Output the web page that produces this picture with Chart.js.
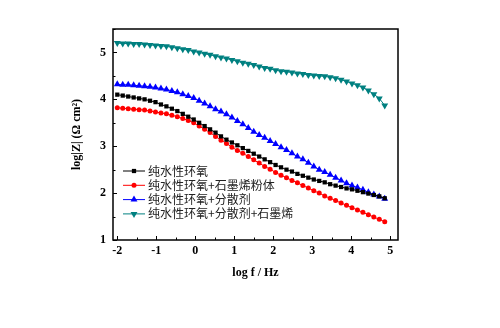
<!DOCTYPE html>
<html>
<head>
<meta charset="utf-8">
<script src="https://cdn.jsdelivr.net/npm/chart.js@4.4.0/dist/chart.umd.min.js"></script>
<style>
html,body{margin:0;padding:0;background:#fff;}
#wrap{width:500px;height:328px;position:relative;}
</style>
</head>
<body>
<div id="wrap"><canvas id="c" width="500" height="328"></canvas></div>
<script>
// ---- data ----
const logF = [-2.00,-1.86,-1.72,-1.58,-1.44,-1.30,-1.16,-1.02,-0.88,-0.74,
  -0.60,-0.46,-0.32,-0.18,-0.04,0.10,0.24,0.38,0.52,0.66,
  0.80,0.94,1.08,1.22,1.36,1.50,1.64,1.78,1.92,2.06,
  2.20,2.34,2.48,2.62,2.76,2.90,3.04,3.18,3.32,3.46,
  3.60,3.74,3.88,4.02,4.16,4.30,4.44,4.58,4.72,4.86];
const pureEpoxy = [4.10,4.08,4.06,4.04,4.02,4.00,3.97,3.94,3.89,3.85,
  3.80,3.75,3.69,3.63,3.57,3.50,3.43,3.36,3.29,3.21,
  3.14,3.08,3.02,2.96,2.90,2.84,2.78,2.72,2.66,2.60,
  2.55,2.50,2.46,2.41,2.37,2.33,2.29,2.26,2.23,2.19,
  2.16,2.13,2.10,2.08,2.05,2.02,1.99,1.96,1.93,1.89];
const epoxyGraphenePowder = [3.82,3.81,3.80,3.79,3.78,3.77,3.75,3.73,3.71,3.69,
  3.66,3.63,3.59,3.55,3.50,3.43,3.36,3.29,3.21,3.13,
  3.06,2.98,2.91,2.85,2.78,2.71,2.64,2.57,2.51,2.44,
  2.38,2.33,2.27,2.22,2.16,2.11,2.05,2.00,1.94,1.89,
  1.84,1.79,1.74,1.69,1.64,1.59,1.54,1.49,1.44,1.39];
const epoxyDispersant = [4.32,4.31,4.31,4.30,4.29,4.28,4.27,4.25,4.23,4.21,
  4.18,4.15,4.11,4.07,4.03,3.97,3.91,3.85,3.79,3.74,
  3.68,3.61,3.54,3.47,3.39,3.31,3.24,3.18,3.11,3.05,
  2.98,2.92,2.85,2.78,2.72,2.65,2.57,2.50,2.45,2.39,
  2.33,2.27,2.21,2.16,2.12,2.07,2.02,1.97,1.93,1.88];
const epoxyDispersantGraphene = [5.20,5.19,5.19,5.18,5.18,5.17,5.16,5.15,5.14,5.13,
  5.11,5.09,5.07,5.05,5.02,5.00,4.97,4.95,4.92,4.89,
  4.87,4.84,4.81,4.78,4.76,4.73,4.70,4.67,4.65,4.62,
  4.60,4.59,4.57,4.55,4.54,4.52,4.51,4.50,4.49,4.47,
  4.45,4.42,4.38,4.34,4.30,4.25,4.19,4.11,4.02,3.87];
const seriesNames = ['纯水性环氧','纯水性环氧+石墨烯粉体','纯水性环氧+分散剂','纯水性环氧+分散剂+石墨烯'];
const xTicks = [-2,-1,0,1,2,3,4,5];
const yTicks = [1,2,3,4,5];
const xTitle = 'log f / Hz';
const yTitle = 'log|Z| (Ω cm²)';

// ---- chart ----
const pts = ys => logF.map((x,i)=>({x:x,y:ys[i]}));
const styles = [
  {color:'#000000', pointStyle:'rect', radius:3.0, rotation:0},
  {color:'#ff0000', pointStyle:'circle', radius:2.5, rotation:0},
  {color:'#0000ff', pointStyle:'triangle', radius:4.0, rotation:0},
  {color:'#008080', pointStyle:'triangle', radius:4.0, rotation:180}
];
const allSeries = [pureEpoxy, epoxyGraphenePowder, epoxyDispersant, epoxyDispersantGraphene];
const datasets = allSeries.map((s,i)=>({
  label: seriesNames[i],
  data: pts(s),
  borderColor: styles[i].color,
  backgroundColor: styles[i].color,
  borderWidth: 1,
  pointStyle: styles[i].pointStyle,
  pointRadius: styles[i].radius,
  pointRotation: styles[i].rotation,
  pointBorderWidth: 0,
  tension: 0
}));

const serif = "'Liberation Serif','DejaVu Serif',serif";

const framePlugin = {
  id:'frame',
  afterDatasetsDraw(chart){
    const ctx = chart.ctx, a = chart.chartArea;
    const xs = chart.scales.x, ys = chart.scales.y;
    ctx.save();
    ctx.strokeStyle = '#000';
    ctx.lineWidth = 1;
    ctx.beginPath();
    xTicks.forEach(v=>{
      const px = Math.round(xs.getPixelForValue(v))+0.5;
      ctx.moveTo(px,a.bottom); ctx.lineTo(px,a.bottom-4);
      if (v < xTicks[xTicks.length-1]) {
        const pm = Math.round(xs.getPixelForValue(v+0.5))+0.5;
        ctx.moveTo(pm,a.bottom); ctx.lineTo(pm,a.bottom-2.5);
      }
    });
    yTicks.forEach(v=>{
      const py = Math.round(ys.getPixelForValue(v))+0.5;
      ctx.moveTo(a.left,py); ctx.lineTo(a.left+4,py);
      const pm = Math.round(ys.getPixelForValue(v+0.5))+0.5;
      ctx.moveTo(a.left,pm); ctx.lineTo(a.left+2.5,pm);
    });
    ctx.stroke();
    ctx.lineWidth = 1.5;
    ctx.strokeRect(a.left, a.top, a.right-a.left, a.bottom-a.top);
    ctx.restore();
  },
  afterDraw(chart){
    const ctx = chart.ctx;
    ctx.save();
    const x0 = 123, x1 = 145, y0 = 171, dy = 14.3;
    chart.data.datasets.forEach((ds,i)=>{
      const y = y0 + i*dy;
      ctx.strokeStyle = ds.borderColor;
      ctx.lineWidth = 1;
      ctx.beginPath(); ctx.moveTo(x0,y); ctx.lineTo(x1,y); ctx.stroke();
      ctx.fillStyle = ds.backgroundColor;
      ctx.strokeStyle = ds.borderColor;
      Chart.helpers.drawPoint(ctx, {pointStyle: ds.pointStyle, rotation: ds.pointRotation, radius: ds.pointRadius, borderWidth:0}, (x0+x1)/2, y);
      ctx.fillStyle = '#222';
      ctx.font = "12px 'Noto Sans CJK SC'";
      ctx.textBaseline = 'middle';
      ctx.textAlign = 'left';
      ctx.fillText(ds.label, 148, y);
    });
    ctx.restore();
  }
};

new Chart(document.getElementById('c'), {
  type:'line',
  data:{datasets:datasets},
  options:{
    responsive:false,
    animation:false,
    layout:{padding:{left:66, right:102, top:29, bottom:44}},
    plugins:{legend:{display:false}, tooltip:{enabled:false}},
    scales:{
      x:{
        type:'linear', min:-2.11, max:5.2,
        afterFit(s){ s.height = 44; },
        afterBuildTicks(s){ s.ticks = xTicks.map(v=>({value:v})); },
        grid:{display:false, drawTicks:false},
        border:{display:false},
        ticks:{padding:4, color:'#000', font:{family:serif, size:12, weight:'bold'}, maxRotation:0, autoSkip:false},
        title:{display:true, text:xTitle, color:'#000', font:{family:serif, size:12, weight:'bold'}, padding:{top:4,bottom:4}}
      },
      y:{
        type:'linear', min:1, max:5.5,
        afterFit(s){ s.width = 47; },
        afterBuildTicks(s){ s.ticks = yTicks.map(v=>({value:v})); },
        grid:{display:false, drawTicks:false},
        border:{display:false},
        ticks:{padding:7, color:'#000', font:{family:serif, size:12, weight:'bold'}, autoSkip:false},
        title:{display:true, text:yTitle, color:'#000', font:{family:serif, size:12, weight:'bold'}, padding:{top:4,bottom:4}}
      }
    }
  },
  plugins:[framePlugin]
});
</script>
</body>
</html>
